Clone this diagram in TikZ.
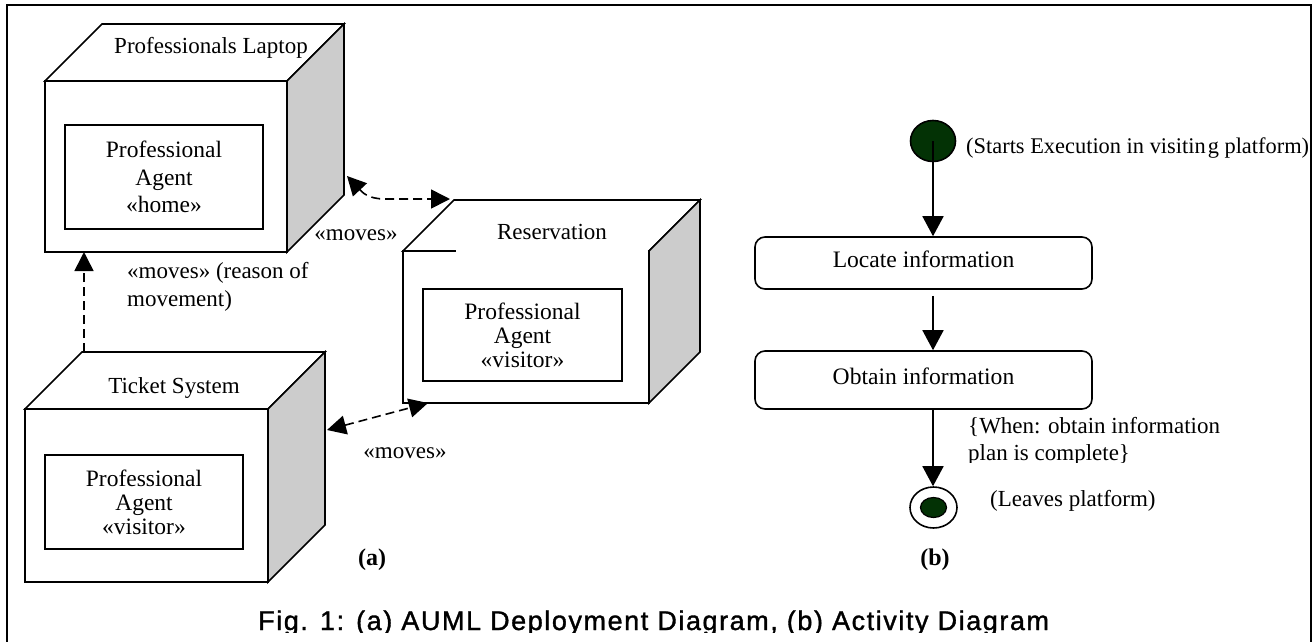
\documentclass[tikz,border=0pt]{standalone}
\usepackage{fontspec}
\setmainfont{Liberation Serif}
\newfontfamily\capfont[LetterSpace=5.8,FakeBold=1.3]{Liberation Sans}
\usetikzlibrary{arrows.meta,shapes.geometric,calc}

\definecolor{sidegray}{RGB}{204,204,204}
\definecolor{dotgreen}{RGB}{3,50,5}

\tikzset{
  outline/.style={draw=black, line width=1.6pt, line join=miter},
  front/.style={outline, fill=white, rectangle, inner sep=0pt, outer sep=0pt},
  txt/.style={inner sep=0pt, font=\fontsize{23}{27}\selectfont},
  agentbox/.style={outline, fill=white, minimum width=198pt, align=center, inner sep=0pt},
  movesline/.style={line width=1.6pt, dash pattern=on 9pt off 5pt},
  actbox/.style={outline, rounded corners=10pt, minimum width=337pt, inner sep=0pt,
    text height=15.7pt, text depth=7.7pt, font=\fontsize{23.6}{27}\selectfont},
  flow/.style={line width=1.6pt, -{Triangle[length=20pt,width=21pt]}},
  >={Triangle[length=19pt,width=19pt]},
}

% node box drawn as a cube: name, left, top, width, height, depth
\newcommand{\devicecube}[6]{%
  \node[front, minimum width=#4pt, minimum height=#5pt, anchor=north west] (#1) at (#2,#3) {};
  \draw[outline, fill=white] (#1.north west) -- ++(#6,-#6) -- ++(#4,0) -- (#1.north east) -- cycle;
  \draw[outline, fill=sidegray] (#1.north east) -- ++(#6,-#6) -- ++(0,#5) -- (#1.south east) -- cycle;
}

\begin{document}
\begin{tikzpicture}[x=1pt,y=-1pt]
\useasboundingbox (0,0) rectangle (1315,641);
\fill[white] (0,0) rectangle (1315,641);

% outer frame
\draw[line width=1.6pt] (7,700) -- (7,5) -- (1311,5) -- (1311,700);

% ---------- (a) deployment diagram ----------
\devicecube{laptop}{45}{81}{242}{171}{57}
\node[txt, anchor=base] (laptoplbl) at (211,53) {Professionals Laptop};
\node[agentbox, minimum height=104pt, font=\fontsize{23.5}{27.5}\selectfont] (homeagent) at (164,177) {Professional\\Agent\\«home»};

\devicecube{ticket}{25}{409}{243}{173}{57}
\node[txt, anchor=base] (ticketlbl) at (174,393) {Ticket System};
\node[agentbox, minimum height=94pt, font=\fontsize{23.5}{24}\selectfont] (ticketagent) at (144,502) {Professional\\Agent\\«visitor»};

\devicecube{reserv}{403}{251}{246}{152}{51}
\fill[white] (456,248.5) rectangle (647.6,253.6);
\node[txt, anchor=base] (reservlbl) at (552,239) {Reservation};
\node[agentbox, minimum width=199pt, minimum height=92pt, font=\fontsize{23.5}{24}\selectfont] (reservagent) at (522.5,335) {Professional\\Agent\\«visitor»};

% connectors between the nodes
\coordinate (lapside) at (347,176);
\coordinate (rescorner) at (450,199);
\coordinate (tickettop) at (84,352);
\coordinate (ticketside) at (327,430);
\coordinate (resbottom) at (428,403);

\draw[movesline, <->] (lapside) .. controls (362,192) and (368,199) .. (385,199) -- (rescorner);
\draw[movesline, ->] (tickettop) -- (tickettop |- laptop.south);
\draw[movesline, <->] (ticketside) -- (resbottom);

\node[txt, anchor=base] (moves1) at (356,240) {«moves»};
\node[txt, anchor=north west, align=left, font=\fontsize{23}{28}\selectfont] (moves2) at (127,262) {«moves» (reason of\\movement)};
\node[txt, anchor=base] (moves3) at (405,458) {«moves»};

\node[txt, anchor=base, font=\fontsize{24}{27}\selectfont\bfseries] (lbla) at (372,565) {(a)};

% ---------- (b) activity diagram ----------
\node[ellipse, draw, line width=1.6pt, fill=dotgreen, minimum width=45pt, minimum height=41pt, inner sep=0pt] (start) at (933,141) {};
\node[txt, anchor=base west, font=\fontsize{22.4}{27}\selectfont] (startlbl) at (966,153) {(Starts Execution in visitin\kern2pt g platform)};

\node[actbox, minimum height=52pt] (locate) at (923.5,263) {Locate information};
\node[actbox, minimum height=58pt] (obtain) at (923.5,380) {Obtain information};

\node[ellipse, draw, line width=1.6pt, fill=white, minimum width=47pt, minimum height=41pt, inner sep=0pt] (final) at (933.5,507.5) {};
\node[ellipse, draw, line width=1.2pt, fill=dotgreen, minimum width=26pt, minimum height=20pt, inner sep=0pt] (finaldot) at (final.center) {};

\draw[flow] (start.center) -- (start.center |- locate.north);
\draw[flow, shorten <=6pt] (start.center |- locate.south) -- (start.center |- obtain.north);
\draw[flow] (start.center |- obtain.south) -- (start.center |- final.north);

\begin{scope}
  \clip (950,400) rectangle (1300,462.5);
  \node[txt, anchor=north west, align=left] (guard) at (968,417) {\{When: obtain information\\plan is complete\}};
\end{scope}
\node[txt, anchor=base west] (endlbl) at (990,506) {(Leaves platform)};

\node[txt, anchor=base, font=\fontsize{24}{27}\selectfont\bfseries] (lblb) at (935,565) {(b)};

% ---------- caption ----------
\begin{scope}
  \clip (200,590) rectangle (1120,632.3);
  \node[inner sep=0pt, anchor=base west, font=\capfont\fontsize{27}{30}\selectfont] (caption) at (258,630) {Fig. 1: (a) AUML Deployment Diagram, (b) Activity Diagram};
\end{scope}
\end{tikzpicture}
\end{document}
